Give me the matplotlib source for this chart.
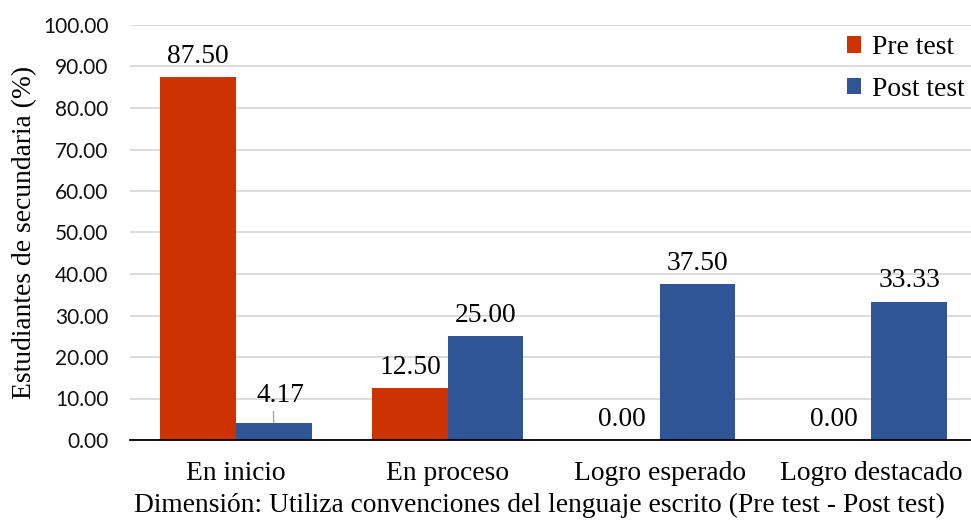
import matplotlib.pyplot as plt
import numpy as np

categories = ["En inicio", "En proceso", "Logro esperado", "Logro destacado"]
pre_test = [87.50, 12.50, 0.00, 0.00]
post_test = [4.17, 25.00, 37.50, 33.33]
y_ticks = np.arange(0, 101, 10)

red = '#CC3300'
blue = '#2F5597'
serif = ['Liberation Serif', 'DejaVu Serif']
sans = ['Lato', 'Liberation Sans', 'DejaVu Sans']
fs = 19.8

fig = plt.figure(figsize=(9.71, 5.2), dpi=100)
ax = fig.add_axes([130/971, 1-440/520, 1-130/971, (440-25)/520])

x = np.arange(len(categories))
w = 0.357
b1 = ax.bar(x - w/2, pre_test, w, color=red, label='Pre test', zorder=2)
b2 = ax.bar(x + w/2, post_test, w, color=blue, label='Post test', zorder=2)

ax.set_ylim(0, 100)
ax.set_xlim(-0.5, 3.47)
ax.set_yticks(y_ticks)
ax.set_yticklabels(['%.2f' % v for v in y_ticks], family=sans, fontsize=15, color='#111111')
ax.set_xticks(x)
ax.set_xticklabels(categories, family=serif, fontsize=fs)
ax.tick_params(axis='both', length=0)
ax.tick_params(axis='x', pad=15)
ax.tick_params(axis='y', pad=15.5)
ax.grid(axis='y', color='#D9D9D9', lw=1.3, zorder=0)
for s in ['top', 'right', 'left']:
    ax.spines[s].set_visible(False)
ax.spines['bottom'].set_color('black')
ax.spines['bottom'].set_linewidth(1.3)
ax.spines['bottom'].set_zorder(3)

ax.set_ylabel('Estudiantes de secundaria (%)', family=serif, fontsize=fs, labelpad=4)
ax.set_xlabel('Dimensión: Utiliza convenciones del lenguaje escrito (Pre test - Post test)',
              family=serif, fontsize=fs, labelpad=5)
ax.xaxis.label.set_x(0.487)

for bars, vals in [(b1, pre_test), (b2, post_test)]:
    for r, v in zip(bars, vals):
        cx = r.get_x() + r.get_width()/2
        if v == 4.17:
            # small bar: label lifted with a leader line
            ax.annotate('%.2f' % v, xy=(cx, v), xytext=(cx + 0.03, v + 3.6),
                        ha='center', va='bottom', family=serif, fontsize=fs,
                        arrowprops=dict(arrowstyle='-', color='#A6A6A6', lw=1,
                                        relpos=(0.36, 0), shrinkA=0.5, shrinkB=0))
        else:
            ax.annotate('%.2f' % v, xy=(cx, v), xytext=(0, 6), textcoords='offset points',
                        ha='center', va='bottom', family=serif, fontsize=fs)

leg = ax.legend(loc='upper right', bbox_to_anchor=(1.022, 1.035), frameon=False,
                prop={'family': serif, 'size': fs}, handlelength=0.5, handleheight=0.55,
                handletextpad=0.4, labelspacing=0.6)

plt.savefig('out.png', dpi=100)
